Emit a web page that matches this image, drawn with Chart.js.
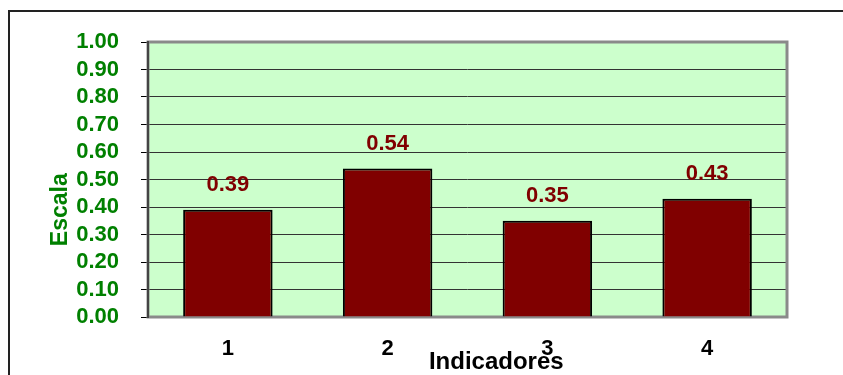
<!DOCTYPE html>
<html>
<head>
<meta charset="utf-8">
<script src="https://cdn.jsdelivr.net/npm/chart.js@4.4.1/dist/chart.umd.min.js"></script>
<style>
  html, body { margin: 0; padding: 0; background: #fff; overflow: hidden; }
  #wrap { position: relative; width: 843px; height: 375px; }
</style>
</head>
<body>
<div id="wrap"><canvas id="chart" width="843" height="375"></canvas></div>
<script>
const CATEGORIES = ['1', '2', '3', '4'];
const VALUES = [0.39, 0.54, 0.35, 0.43];
const Y_TITLE = 'Escala';
const X_TITLE = 'Indicadores';

const FONT_FAMILY = "'Liberation Sans', Arial, sans-serif";
const GREEN = '#008000';
const BAR_COLOR = '#800000';
const PLOT_BG = '#ccffcc';

const framePlugin = {
  id: 'frame',
  beforeDraw(chart) {
    const { ctx, chartArea: a } = chart;
    ctx.save();
    // outer chart border, runs past the right and bottom edges
    ctx.strokeStyle = '#222';
    ctx.lineWidth = 2;
    ctx.strokeRect(9, 11, 1000, 1000);
    ctx.fillStyle = PLOT_BG;
    ctx.fillRect(a.left, a.top, a.right - a.left, a.bottom - a.top);
    ctx.restore();
  },
  beforeDatasetsDraw(chart) {
    const { ctx, chartArea: a } = chart;
    ctx.save();
    ctx.strokeStyle = '#8a8a8a';
    ctx.lineWidth = 3;
    ctx.strokeRect(a.left, a.top, a.right - a.left, a.bottom - a.top);
    ctx.strokeStyle = '#444';
    ctx.lineWidth = 2;
    ctx.beginPath();
    ctx.moveTo(a.left, a.top - 1);
    ctx.lineTo(a.left, a.bottom + 1);
    ctx.stroke();
    ctx.restore();
  },
  afterDatasetsDraw(chart) {
    const { ctx } = chart;
    const meta = chart.getDatasetMeta(0);
    ctx.save();
    ctx.fillStyle = BAR_COLOR;
    ctx.font = `bold 22px ${FONT_FAMILY}`;
    ctx.textAlign = 'center';
    ctx.textBaseline = 'middle';
    meta.data.forEach((bar, i) => {
      ctx.fillText(VALUES[i].toFixed(2), bar.x, bar.y - 25);
    });
    ctx.restore();
  },
  afterDraw(chart) {
    const { ctx, chartArea: a } = chart;
    ctx.save();
    ctx.textAlign = 'center';
    ctx.textBaseline = 'middle';
    ctx.fillStyle = '#000';
    ctx.font = `bold 24px ${FONT_FAMILY}`;
    ctx.fillText(X_TITLE, a.left + (a.right - a.left) * 0.545, 362);
    ctx.translate(61, a.top + (a.bottom - a.top) * 0.61);
    ctx.rotate(-Math.PI / 2);
    ctx.fillStyle = GREEN;
    ctx.font = `bold 23px ${FONT_FAMILY}`;
    ctx.fillText(Y_TITLE, 0, 0);
    ctx.restore();
  },
};

new Chart(document.getElementById('chart'), {
  type: 'bar',
  data: {
    labels: CATEGORIES,
    datasets: [{
      data: VALUES,
      backgroundColor: BAR_COLOR,
      borderColor: '#000',
      borderWidth: 2,
      barPercentage: 0.56,
      categoryPercentage: 1,
    }],
  },
  options: {
    responsive: false,
    animation: false,
    layout: { padding: { left: 0, top: 42, right: 56, bottom: 0 } },
    plugins: {
      legend: { display: false },
      tooltip: { enabled: false },
    },
    scales: {
      x: {
        grid: { display: false },
        border: { display: false },
        ticks: {
          color: '#000',
          font: { family: FONT_FAMILY, size: 22, weight: 'bold' },
          padding: 11,
        },
        afterFit: s => { s.height = 58; },
      },
      y: {
        min: 0,
        max: 1,
        grid: { color: '#333', lineWidth: 1, tickLength: 7, tickColor: '#000' },
        border: { display: false },
        ticks: {
          stepSize: 0.1,
          autoSkip: false,
          color: GREEN,
          padding: 22,
          font: { family: FONT_FAMILY, size: 22, weight: 'bold' },
          callback: v => Number(v).toFixed(2),
        },
        afterFit: s => { s.width = 148; },
      },
    },
  },
  plugins: [framePlugin],
});
</script>
</body>
</html>
